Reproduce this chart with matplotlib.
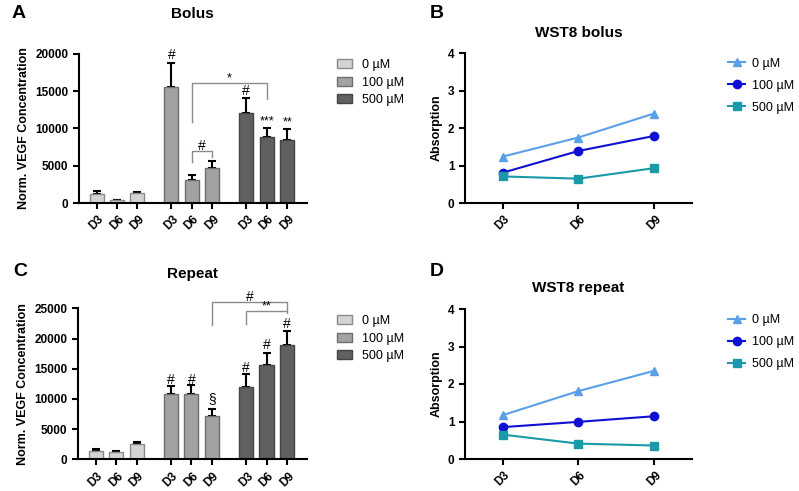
import matplotlib
matplotlib.use("Agg")
import matplotlib.pyplot as plt
import numpy as np

plt.rcParams['font.family'] = ['Liberation Sans', 'DejaVu Sans']

days = ["D3", "D6", "D9"]
doses = ["0 µM", "100 µM", "500 µM"]

# panel A - bolus VEGF (mean, upper error)
bolus_mean = [[1200, 360, 1340], [15580, 3080, 4640], [12000, 8840, 8480]]
bolus_err = [[400, 90, 180], [3170, 670, 1030], [2100, 1200, 1390]]

# panel C - repeat VEGF
repeat_mean = [[1320, 1160, 2480], [10760, 10820, 7170], [12030, 15560, 18930]]
repeat_err = [[340, 220, 390], [1440, 1430, 1110], [2040, 2100, 2370]]

# panels B, D - WST8 absorption
wst_bolus = [[1.24, 1.75, 2.39], [0.81, 1.39, 1.79], [0.71, 0.65, 0.93]]
wst_repeat = [[1.17, 1.81, 2.35], [0.85, 0.99, 1.14], [0.65, 0.41, 0.36]]

bar_colors = ["#d4d4d4", "#a2a2a2", "#606060"]
bar_edges = ["#8a8a8a", "#6e6e6e", "#444444"]
line_colors = ["#5aa0e6", "#1010d2", "#1a9aa8"]
markers = ["^", "o", "s"]

W, H = 799, 491
fig = plt.figure(figsize=(W / 100, H / 100), dpi=100)


def box(l, r, b, t):
    return [l / W, 1 - b / H, (r - l) / W, (b - t) / H]


# bar x positions
pos = []
for g in range(3):
    pos.append([g * 3.67 + i for i in range(3)])


def style_axes(ax):
    for s in ["top", "right"]:
        ax.spines[s].set_visible(False)
    for s in ["left", "bottom"]:
        ax.spines[s].set_linewidth(1.5)
    ax.tick_params(width=1.5, length=4, labelsize=8.5)
    for lab in ax.get_yticklabels():
        lab.set_fontweight("bold")


def bar_panel(ax, mean, err, ymax, step, leg_y):
    for g in range(3):
        ax.bar(pos[g], mean[g], width=0.69, color=bar_colors[g],
               edgecolor=bar_edges[g], linewidth=1, label=doses[g], zorder=2)
        ax.errorbar(pos[g], mean[g], yerr=[np.zeros(3), err[g]], fmt="none",
                    ecolor="black", elinewidth=1.5, capsize=3, capthick=1.5, zorder=1)
    ax.set_xlim(-0.86, 10.3)
    ax.set_ylim(0, ymax)
    ax.set_yticks(np.arange(0, ymax + 1, step))
    allpos = [p for grp in pos for p in grp]
    ax.set_xticks(allpos)
    ax.set_xticklabels(days * 3, rotation=45, ha="center", fontweight="bold")
    ax.set_ylabel("Norm. VEGF Concentration", fontsize=9, fontweight="bold")
    style_axes(ax)
    ax.legend(loc="upper left", bbox_to_anchor=(1.085, leg_y), frameon=False,
              fontsize=9, handlelength=1.15, handleheight=0.75, handletextpad=0.8,
              labelspacing=0.45)


def bracket(ax, x1, x2, y, y1, y2, label, ty, fs=9):
    ax.plot([x1, x1, x2, x2], [y1, y, y, y2], color="#8c8c8c", lw=1, clip_on=False)
    ax.text((x1 + x2) / 2, ty, label, ha="center", va="center", fontsize=fs, clip_on=False)


def star(ax, x, y, label, fs=9):
    ax.text(x, y, label, ha="center", va="center", fontsize=fs, clip_on=False)


def line_panel(ax, vals, title, leg_y):
    x = np.arange(3)
    for i in range(3):
        ax.plot(x, vals[i], color=line_colors[i], marker=markers[i], markersize=6,
                lw=1.5, label=doses[i], clip_on=False)
    ax.set_xlim(-0.5, 2.5)
    ax.set_ylim(0, 4)
    ax.set_yticks([0, 1, 2, 3, 4])
    ax.set_xticks(x)
    ax.set_xticklabels(days, rotation=45, ha="center", fontweight="bold")
    ax.set_ylabel("Absorption", fontsize=9, fontweight="bold")
    ax.set_title(title, fontsize=11, fontweight="bold", pad=12)
    style_axes(ax)
    ax.legend(loc="upper left", bbox_to_anchor=(1.11, leg_y), frameon=False,
              fontsize=9, handlelength=1.4, handletextpad=0.5, labelspacing=0.8)


# A
axA = fig.add_axes(box(79, 306.7, 203, 53.7))
bar_panel(axA, bolus_mean, bolus_err, 20000, 5000, 1.04)
axA.set_title("Bolus", fontsize=11, fontweight="bold", pad=26)
star(axA, pos[1][0], 19800, "#", 10)
star(axA, pos[2][0], 15000, "#", 10)
star(axA, pos[2][1], 10900, "***")
star(axA, pos[2][2], 10800, "**")
bracket(axA, pos[1][1], pos[2][1], 16100, 10800, 13900, "*", 16700)
bracket(axA, pos[1][1], pos[1][2], 6960, 5500, 6100, "#", 7600, 10)

# C
axC = fig.add_axes(box(78, 306.7, 459.3, 308.3))
bar_panel(axC, repeat_mean, repeat_err, 25000, 5000, 1.03)
axC.set_title("Repeat", fontsize=11, fontweight="bold", pad=22)
star(axC, pos[1][0], 13200, "#", 10)
star(axC, pos[1][1], 13200, "#", 10)
star(axC, pos[1][2], 10000, "§", 10)
star(axC, pos[2][0], 15100, "#", 10)
star(axC, pos[2][1], 18900, "#", 10)
star(axC, pos[2][2], 22350, "#", 10)
bracket(axC, pos[1][2], pos[2][2], 26100, 22200, 24700, "#", 26900, 10)
bracket(axC, pos[2][0], pos[2][2], 24600, 22350, 24200, "**", 25300)

# B, D
axB = fig.add_axes(box(465, 691.7, 203, 53.3))
line_panel(axB, wst_bolus, "WST8 bolus", 1.045)
axD = fig.add_axes(box(465, 691.7, 459, 309))
line_panel(axD, wst_repeat, "WST8 repeat", 1.04)

for lab, x, y in [("A", 12, 13), ("B", 430, 13), ("C", 13, 272), ("D", 430, 272)]:
    fig.text(x / W, 1 - y / H, lab, fontsize=14, fontweight="bold", ha="left", va="center")

fig.savefig("out.png", dpi=100)
